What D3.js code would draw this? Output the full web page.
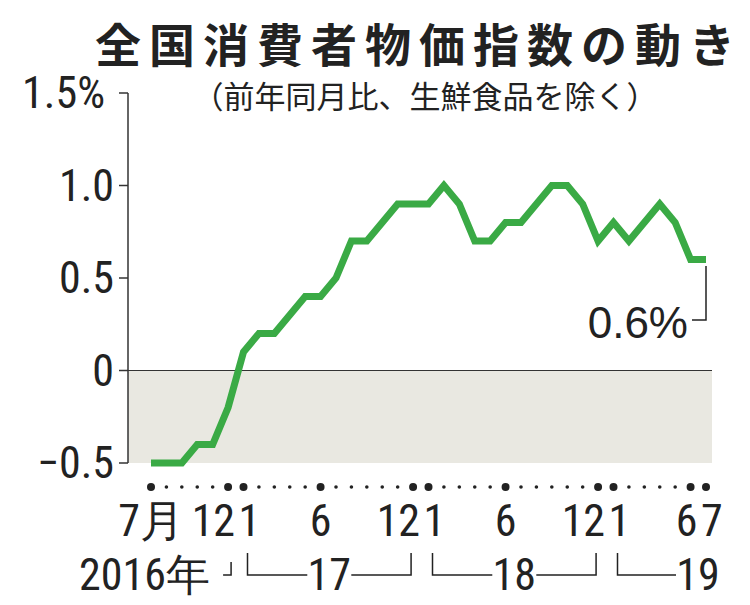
<!DOCTYPE html><html><head><meta charset="utf-8">
<script src="https://cdn.jsdelivr.net/npm/d3@7"></script>
<style>body{margin:0;background:#fff}</style></head><body>
<svg id="c" width="750" height="605"></svg>
<script>
const months = d3.range(37); // Jul 2016 .. Jul 2019
const values = [-0.5,-0.5,-0.5,-0.4,-0.4,-0.2,0.1,0.2,0.2,0.3,0.4,0.4,0.5,0.7,0.7,0.8,0.9,0.9,0.9,1.0,0.9,0.7,0.7,0.8,0.8,0.9,1.0,1.0,0.9,0.7,0.8,0.7,0.8,0.9,0.8,0.6,0.6];
const yTicks = [-0.5,0,0.5,1.0,1.5];
const yTickLabels = ["−0.5","0","0.5","1.0","1.5%"];
const monthLabels = [[0,"7月"],[5,"12"],[6,"1"],[11,"6"],[17,"12"],[18,"1"],[23,"6"],[29,"12"],[30,"1"],[35,"6"],[36,"7"]];
const bigDots = [0,5,6,11,17,18,23,29,30,35,36];

const svg = d3.select("#c");
const F = "'Liberation Sans Narrow','Roboto Condensed','Liberation Sans',sans-serif";
const x = d3.scaleLinear().domain([0,36]).range([151,706]);
const y = d3.scaleLinear().domain([-0.5,1.5]).range([463,93]);

svg.append("text").attr("x",415).attr("y",62).attr("text-anchor","middle").attr("textLength",640)
 .attr("font-family","'Noto Sans CJK JP'").attr("font-weight","bold").attr("font-size",46).attr("fill","#222").text("全国消費者物価指数の動き");
svg.append("text").attr("x",425).attr("y",108).attr("text-anchor","middle")
 .attr("font-family","'Noto Sans CJK JP'").attr("font-size",31).attr("fill","#222").text("（前年同月比、生鮮食品を除く）");

svg.append("rect").attr("x",128).attr("y",y(0)).attr("width",712-128).attr("height",y(-0.5)-y(0)).attr("fill","#e9e8e1");
svg.append("line").attr("x1",128).attr("x2",712).attr("y1",y(0)).attr("y2",y(0)).attr("stroke","#333").attr("stroke-width",1.2);

svg.append("line").attr("x1",128).attr("x2",128).attr("y1",y(1.5)).attr("y2",y(-0.5)).attr("stroke","#333").attr("stroke-width",1.5);
yTicks.forEach((t,i)=>{
  svg.append("line").attr("x1",119).attr("x2",128).attr("y1",y(t)).attr("y2",y(t)).attr("stroke","#333").attr("stroke-width",1.5);
  svg.append("text").attr("x",i==4?105:114).attr("y",y(t)+15).attr("text-anchor","end")
   .attr("font-family",F).attr("font-size",44).attr("fill","#222").text(yTickLabels[i]);
});

const line = d3.line().x((d,i)=>x(months[i])).y(d=>y(d));
svg.append("path").datum(values).attr("d",line).attr("fill","none").attr("stroke","#3aaa45").attr("stroke-width",7).attr("stroke-linejoin","miter");

months.forEach(m=>{
  svg.append("circle").attr("cx",x(m)).attr("cy",487).attr("r",bigDots.includes(m)?4:1.8).attr("fill","#222");
});
monthLabels.forEach(([m,l])=>{
  let ax = m===5||m===17||m===29||m===35 ? "end" : (m===6||m===18||m===30||m===36?"start":"middle");
  let xx = ax==="end"? x(m)+7 : ax==="start"? x(m)-5 : x(m);
  svg.append("text").attr("x",xx).attr("y",536).attr("text-anchor",ax).attr("font-family",F).attr("font-size",44).attr("fill","#222").text(l);
});
svg.append("text").attr("x",210).attr("y",590).attr("text-anchor","end").attr("font-family",F).attr("font-size",44).attr("fill","#222").text("2016年");
const yr = [[6,17,"17"],[18,29,"18"],[30,36,"19"]];
svg.append("path").attr("d",`M${x(5)+3},562V575H${x(5)-5}`).attr("fill","none").attr("stroke","#222").attr("stroke-width",1.5);
yr.forEach(([a,b,l])=>{
  const xa=x(a)+4, xb=x(b)-2, mid=b===36?x(36)-8:(xa+xb)/2;
  svg.append("text").attr("x",mid).attr("y",590).attr("text-anchor","middle").attr("font-family",F).attr("font-size",44).attr("fill","#222").text(l);
  let p = `M${xa},553V575H${mid-22}`;
  if(b!==36) p += `M${mid+22},575H${xb}V553`;
  svg.append("path").attr("d",p).attr("fill","none").attr("stroke","#222").attr("stroke-width",1.5);
});

svg.append("path").attr("d",`M${x(36)},266V320H${x(36)-14}`).attr("fill","none").attr("stroke","#222").attr("stroke-width",1.5);
svg.append("text").attr("x",688).attr("y",338).attr("text-anchor","end").attr("font-family","'Liberation Sans',sans-serif").attr("font-size",44).attr("fill","#222").text("0.6%");
</script></body></html>
